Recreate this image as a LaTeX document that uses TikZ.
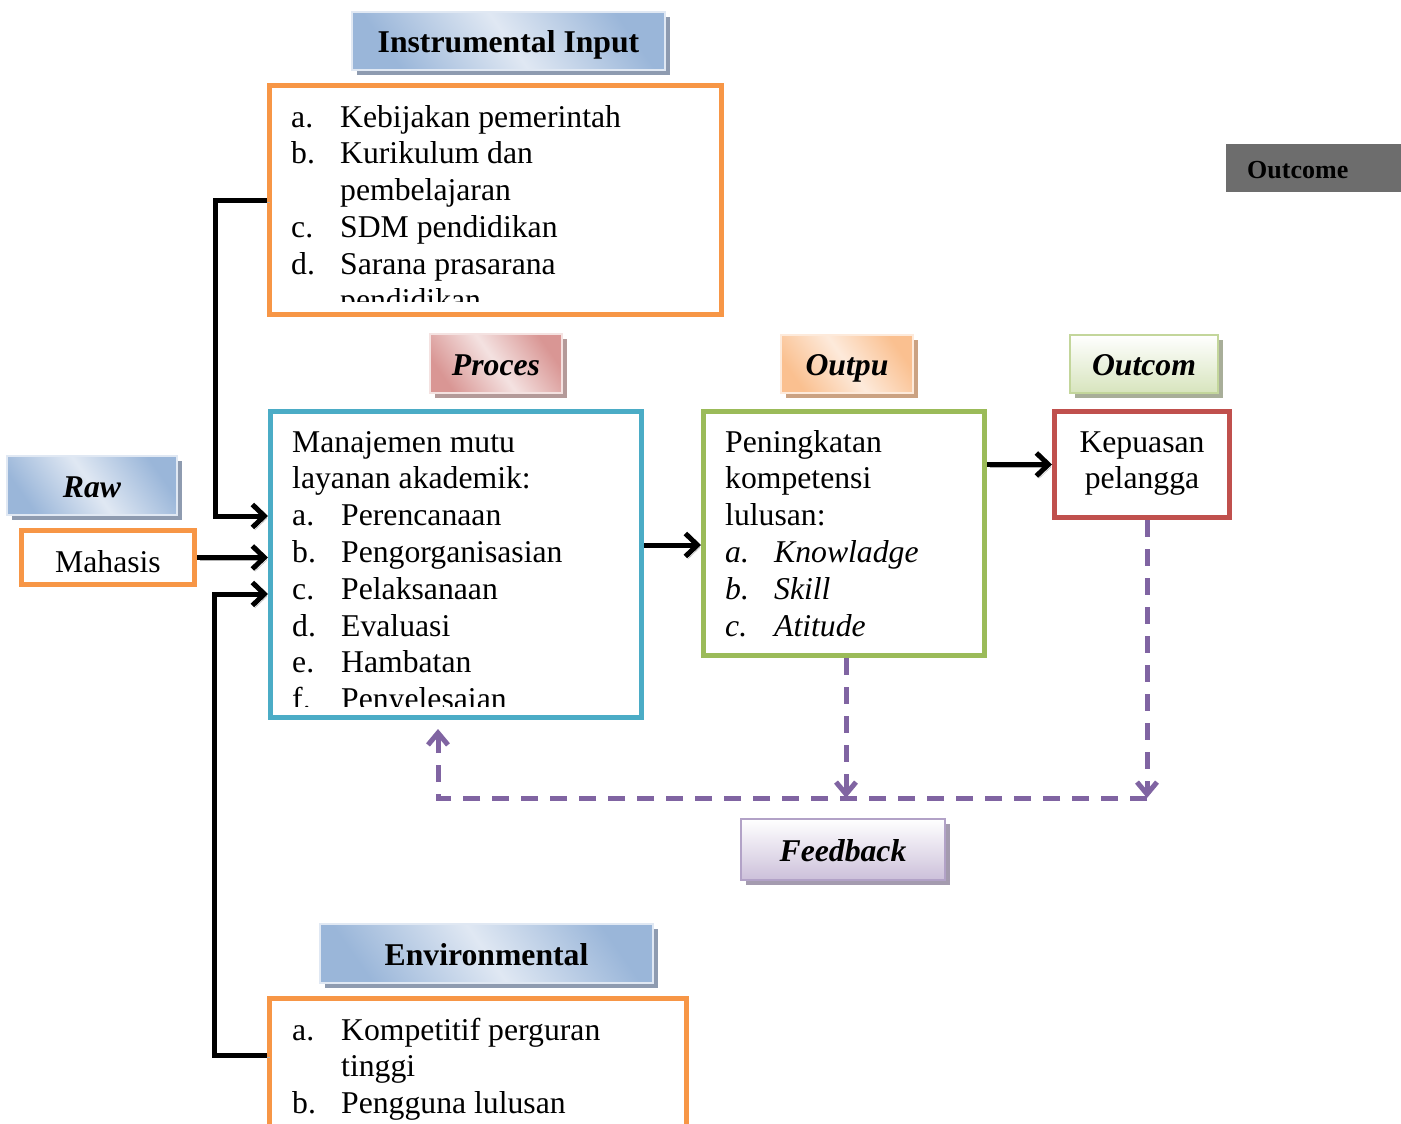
\documentclass[tikz,border=0pt]{standalone}
\usepackage{fontspec}
\setmainfont{Liberation Serif}
\usetikzlibrary{arrows.meta,calc,shadows}

\definecolor{cOrange}{HTML}{F79646}
\definecolor{cCyan}{HTML}{4BACC6}
\definecolor{cGreen}{HTML}{9BBB59}
\definecolor{cRed}{HTML}{C0504D}
\definecolor{cPurple}{HTML}{8064A2}
\definecolor{blueDark}{HTML}{9AB6D9}
\definecolor{blueLight}{HTML}{E0E8F3}
\definecolor{blueShadow}{HTML}{8E9BB0}
\definecolor{pinkDark}{HTML}{D99694}
\definecolor{pinkLight}{HTML}{F4E2E1}
\definecolor{pinkShadow}{HTML}{B49A99}
\definecolor{orgDark}{HTML}{FAC090}
\definecolor{orgLight}{HTML}{FDEADB}
\definecolor{orgShadow}{HTML}{CBA282}
\definecolor{grnLight}{HTML}{D7E4BD}
\definecolor{grnBorder}{HTML}{C3D69B}
\definecolor{grnShadow}{HTML}{A8AE99}
\definecolor{purLight}{HTML}{CCC0DA}
\definecolor{purBorder}{HTML}{B2A2C7}
\definecolor{purShadow}{HTML}{A49BAF}
\definecolor{greyBox}{HTML}{6D6D6D}

\newcommand\lstitem[2]{\makebox[49pt][l]{#1}#2}

\tikzset{
  bodyfont/.style={font=\fontsize{31.7}{36.8}\selectfont},
  frame/.style={draw=#1, line width=5pt, fill=white, inner sep=0pt, anchor=north west},
  bodytext/.style={bodyfont, inner sep=0pt, anchor=base west},
  hdrbase/.style={inner sep=0pt, line width=1.2pt, text height=23pt, text depth=0pt,
    font=\fontsize{31.7}{36.8}\selectfont\bfseries},
  % diagonal band shading: dark corners, light middle
  hdrdiag/.style n args={3}{hdrbase, draw=#2,
    general shadow={fill=#3, shadow xshift=5pt, shadow yshift=-5pt},
    left color=#1, right color=#1, middle color=#2, shading angle=125},
  % vertical shading: white top, tinted bottom
  hdrvert/.style n args={3}{hdrbase, draw=#2,
    general shadow={fill=#3, shadow xshift=5pt, shadow yshift=-5pt},
    top color=white, bottom color=#1},
  conn/.style={line width=5pt, draw=black,
    -{Straight Barb[length=12pt,width=23pt]},
    preaction={draw=black!30, transform canvas={shift={(2.5pt,-2.5pt)}}}},
  fbk/.style={draw=cPurple, line width=5pt, dash pattern=on 17pt off 12pt},
  fbtip/.style={-{Straight Barb[length=12pt,width=20pt]}}
}

\begin{document}
\begin{tikzpicture}[x=1pt,y=-1pt]
\useasboundingbox (0,0) rectangle (1401,1124);
\fill[white] (0,0) rectangle (1401,1124);

% ---- main frames ----
\node[frame=cOrange, minimum width=452pt, minimum height=229pt] (instr) at (267,83) {};
\node[frame=cCyan,   minimum width=371pt, minimum height=306pt] (proc)  at (268,409) {};
\node[frame=cGreen,  minimum width=281pt, minimum height=244pt] (out)   at (701,409) {};
\node[frame=cRed,    minimum width=175pt, minimum height=106pt] (outc)  at (1052,409) {};
\node[frame=cOrange, minimum width=173pt, minimum height=54pt, bodyfont,
      text height=30pt, text depth=0pt] (mhs) at (19,528) {Mahasis};
\node[frame=cOrange, minimum width=417pt, minimum height=200pt] (env)   at (267,996) {};

% ---- frame contents ----
\begin{scope}
  \clip (272,88) rectangle (718,301);
  \node[bodytext] (instrtxt) at (291,127) {\parbox[t]{420pt}{\raggedright
    \lstitem{a.}{Kebijakan pemerintah}\\
    \lstitem{b.}{Kurikulum dan}\\
    \hspace*{49pt}pembelajaran\\
    \lstitem{c.}{SDM pendidikan}\\
    \lstitem{d.}{Sarana prasarana}\\
    \hspace*{49pt}pendidikan}};
\end{scope}

\begin{scope}
  \clip (273,414) rectangle (638,706);
  \node[bodytext] (proctxt) at (292,452) {\parbox[t]{340pt}{\raggedright
    Manajemen mutu\\
    layanan akademik:\\
    \lstitem{a.}{Perencanaan}\\
    \lstitem{b.}{Pengorganisasian}\\
    \lstitem{c.}{Pelaksanaan}\\
    \lstitem{d.}{Evaluasi}\\
    \lstitem{e.}{Hambatan}\\
    \lstitem{f.}{Penyelesaian}}};
\end{scope}

\node[bodytext] (outtxt) at (725,452) {\parbox[t]{250pt}{\raggedright
    Peningkatan\\
    kompetensi\\
    lulusan:\\
    \textit{\lstitem{a.}{Knowladge}}\\
    \textit{\lstitem{b.}{Skill}}\\
    \textit{\lstitem{c.}{Atitude}}}};

\node[bodyfont, inner sep=0pt, anchor=base] (outctxt) at (1142,452)
  {\parbox[t]{170pt}{\centering Kepuasan\\ pelangga}};

\node[bodytext] (envtxt) at (292,1040) {\parbox[t]{380pt}{\raggedright
    \lstitem{a.}{Kompetitif perguran}\\
    \hspace*{49pt}tinggi\\
    \lstitem{b.}{Pengguna lulusan}}};

% ---- headers ----
\node[hdrdiag={blueDark}{blueLight}{blueShadow}, minimum width=313pt, minimum height=58pt]
  (hInstr) at (508.5,41) {Instrumental Input};
\node[hdrdiag={blueDark}{blueLight}{blueShadow}, minimum width=170pt, minimum height=59pt]
  (hRaw) at (92,485.5) {\itshape Raw};
\node[hdrdiag={pinkDark}{pinkLight}{pinkShadow}, minimum width=132pt, minimum height=59pt]
  (hProc) at (496,363.5) {\itshape Proces};
\node[hdrdiag={orgDark}{orgLight}{orgShadow}, minimum width=132pt, minimum height=58pt]
  (hOut) at (847,364) {\itshape Outpu};
\node[hdrvert={grnLight}{grnBorder}{grnShadow}, minimum width=148pt, minimum height=58pt]
  (hOutc) at (1144,364) {\itshape Outcom};
\node[hdrvert={purLight}{purBorder}{purShadow}, minimum width=204pt, minimum height=61pt]
  (hFb) at (843,849.5) {\itshape Feedback};
\node[hdrdiag={blueDark}{blueLight}{blueShadow}, minimum width=333pt, minimum height=59pt]
  (hEnv) at (486.5,953.5) {Environmental};

\node[fill=greyBox, anchor=north west, minimum height=48pt, text width=133pt,
      text height=20pt, text depth=0pt,
      inner xsep=21pt, inner ysep=0pt, align=left,
      font=\fontsize{26}{30}\selectfont\bfseries] (gOut) at (1226,144) {Outcome};

% ---- connectors ----
\coordinate (jTop) at (215,516);
\coordinate (jBot) at (214,594);
\coordinate (jEnv) at (214,1055);
\coordinate (jPO)  at (0,545);

\draw[conn] (instr.west) -| (jTop) -- (jTop -| proc.west);
\draw[conn] (mhs.east) -- (mhs.east -| proc.west);
\draw[conn] (jEnv -| env.west) -- (jEnv) |- (jBot -| proc.west);
\draw[conn] (proc.east |- jPO) -- (out.west |- jPO);
\draw[conn] (out.east |- outc.west) -- (outc.west);

% ---- feedback loop ----
\coordinate (fbR) at (1147,798);
\coordinate (fbM) at (846,798);
\coordinate (fbL) at (438,798);
\coordinate (fbT) at (438,729);

\draw[fbk, fbtip] (fbM |- out.south) -- (fbM);
\draw[fbk, fbtip] (fbR |- outc.south) -- (fbR);
\draw[fbk, fbtip] (fbR) -- (fbL) -- (fbT);

\end{tikzpicture}
\end{document}
